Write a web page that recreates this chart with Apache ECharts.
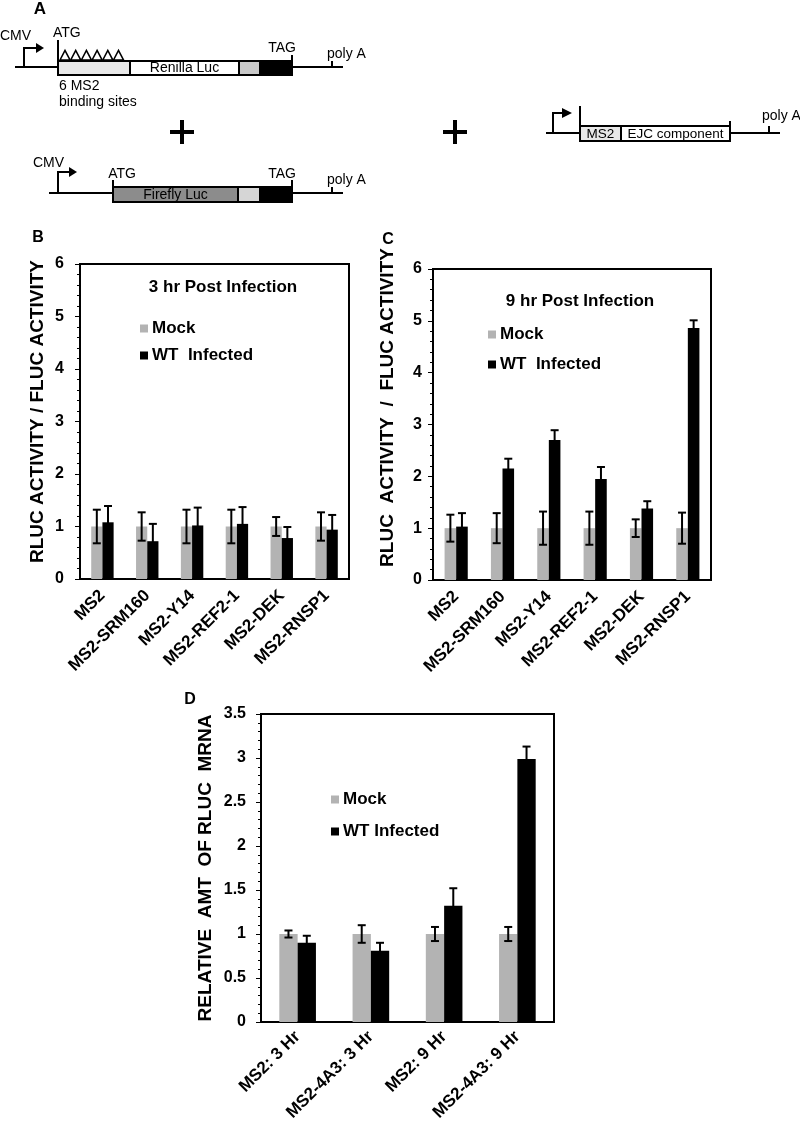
<!DOCTYPE html>
<html>
<head>
<meta charset="utf-8">
<script src="https://cdn.jsdelivr.net/npm/echarts@6/dist/echarts.min.js"></script>
<style>
html,body{margin:0;padding:0;background:#fff;}
#chart{width:800px;height:1128px;}
</style>
</head>
<body>
<div id="chart"></div>
<script>
// ---------- DATA ----------
var catsBC = ['MS2', 'MS2-SRM160', 'MS2-Y14', 'MS2-REF2-1', 'MS2-DEK', 'MS2-RNSP1'];
var catsD = ['MS2: 3 Hr', 'MS2-4A3: 3 Hr', 'MS2: 9 Hr', 'MS2-4A3: 9 Hr'];

var mockB = [1, 1, 1, 1, 1, 1];
var mockErrB = [0.32, 0.27, 0.32, 0.32, 0.18, 0.27];
var wtB = [1.08, 0.72, 1.02, 1.05, 0.78, 0.94];
var wtErrB = [0.31, 0.33, 0.34, 0.32, 0.21, 0.28];

var mockC = [1, 1, 1, 1, 1, 1];
var mockErrC = [0.26, 0.29, 0.32, 0.32, 0.17, 0.30];
var wtC = [1.03, 2.15, 2.70, 1.95, 1.38, 4.86];
var wtErrC = [0.26, 0.19, 0.19, 0.23, 0.14, 0.15];

var mockD = [1, 1, 1, 1];
var mockErrD = [0.04, 0.10, 0.08, 0.08];
var wtD = [0.90, 0.81, 1.32, 2.99];
var wtErrD = [0.08, 0.09, 0.20, 0.14];

var yTicksBC = [0, 1, 2, 3, 4, 5, 6];
var yTicksD = [0, 0.5, 1, 1.5, 2, 2.5, 3, 3.5];

// ---------- HELPERS ----------
var GREY = '#b3b3b3';
var FONT = 'Liberation Sans, Arial, sans-serif';

function errData(vals, errs) {
  return vals.map(function (v, i) { return [i, v, v + errs[i], v - errs[i]]; });
}
function errRender(side) {
  return function (params, api) {
    var x = api.value(0);
    var hi = api.coord([x, api.value(2)]);
    var lo = api.coord([x, api.value(3)]);
    var bw = api.size([1, 0])[0] * 0.25;
    var cx = hi[0] + side * bw / 2;
    var cap = 4;
    var st = { stroke: '#000', lineWidth: 2 };
    return {
      type: 'group',
      children: [
        { type: 'line', shape: { x1: cx, y1: hi[1], x2: cx, y2: lo[1] }, style: st },
        { type: 'line', shape: { x1: cx - cap, y1: hi[1], x2: cx + cap, y2: hi[1] }, style: st },
        { type: 'line', shape: { x1: cx - cap, y1: lo[1], x2: cx + cap, y2: lo[1] }, style: st }
      ]
    };
  };
}
function xAx(idx, cats, fs, margin) {
  return {
    type: 'category', gridIndex: idx, data: cats,
    axisLine: { lineStyle: { color: '#000', width: 2 } },
    axisTick: { show: false },
    axisLabel: { interval: 0, rotate: 45, fontSize: fs, fontWeight: 'bold', color: '#000', fontFamily: FONT, margin: margin }
  };
}
function yAx(idx, max, interval, minorSplit, name, nameGap, padLeft, labelMargin) {
  return {
    type: 'value', gridIndex: idx, min: 0, max: max, interval: interval,
    name: name, nameLocation: 'middle', nameRotate: 90, nameGap: nameGap,
    nameTextStyle: { fontSize: 19, fontWeight: 'bold', color: '#000', fontFamily: FONT, padding: [0, 0, 0, padLeft] },
    axisLine: { show: true, lineStyle: { color: '#000', width: 2 } },
    axisTick: { show: true, length: 5, lineStyle: { color: '#000', width: 1 } },
    minorTick: { show: true, splitNumber: minorSplit, length: 3, lineStyle: { color: '#000', width: 1 } },
    splitLine: { show: false },
    axisLabel: { fontSize: 16, fontWeight: 'bold', color: '#000', fontFamily: FONT, margin: labelMargin }
  };
}
function barS(name, idx, data, color) {
  return {
    type: 'bar', name: name, xAxisIndex: idx, yAxisIndex: idx, data: data,
    barWidth: '25%', barGap: '0%', itemStyle: { color: color }, z: 2, silent: true
  };
}
function errS(idx, vals, errs, side) {
  return {
    type: 'custom', xAxisIndex: idx, yAxisIndex: idx, data: errData(vals, errs),
    renderItem: errRender(side), z: 5, silent: true,
    encode: { x: 0, y: [1, 2, 3] }
  };
}
function legendAt(left, top, gap, names) {
  return {
    left: left, top: top, orient: 'vertical', itemGap: gap,
    itemWidth: 8, itemHeight: 8, icon: 'rect', selectedMode: false,
    data: names,
    textStyle: { fontSize: 17, fontWeight: 'bold', color: '#000', fontFamily: FONT, lineHeight: 17, padding: [0, 0, 0, -1] }
  };
}

// ---------- DIAGRAM (panel A) ----------
function L(x1, y1, x2, y2, w) { return { type: 'line', shape: { x1: x1, y1: y1, x2: x2, y2: y2 }, style: { stroke: '#000', lineWidth: w || 2 } }; }
function R(x, y, w, h, fill) { return { type: 'rect', shape: { x: x, y: y, width: w, height: h }, style: { fill: fill, stroke: '#000', lineWidth: 2 } }; }
function T(x, y, txt, fs, align, bold) {
  return { type: 'text', x: x, y: y, style: { text: txt, fontSize: fs, fontFamily: FONT, fontWeight: bold ? 'bold' : 'normal', fill: '#000', align: align || 'left', verticalAlign: 'middle' } };
}
function PL(points) { return { type: 'polyline', shape: { points: points }, style: { stroke: '#000', lineWidth: 2, fill: null } }; }
function plus(cx, cy) {
  return [
    { type: 'rect', shape: { x: cx - 12, y: cy - 2, width: 24, height: 4 }, style: { fill: '#000' } },
    { type: 'rect', shape: { x: cx - 2, y: cy - 12, width: 4, height: 24 }, style: { fill: '#000' } }
  ];
}

var g = [];
// panel letters
g.push(T(40, 9, 'A', 17, 'center', true));
g.push(T(38, 238, 'B', 16, 'center', true));
g.push(T(388, 240, 'C', 16, 'center', true));
g.push(T(190, 700, 'D', 16, 'center', true));

// construct 1 (Renilla)
g.push(T(0, 36, 'CMV', 14));
g.push(PL([[24, 67], [24, 48], [37, 48]]));
g.push({ type: 'polygon', shape: { points: [[36, 43], [44, 48], [36, 53]] }, style: { fill: '#000' } });
g.push(L(15, 67, 58, 67));
g.push(L(58, 40, 58, 75));
g.push(T(53, 33, 'ATG', 14));
g.push(R(58, 61, 72, 14, '#e8e8e8'));
g.push(R(130, 61, 109, 14, '#ffffff'));
g.push(R(239, 61, 21, 14, '#c8c8c8'));
g.push(R(260, 61, 32, 14, '#000000'));
g.push(T(184.5, 68.5, 'Renilla Luc', 14, 'center'));
for (var k = 0; k < 6; k++) {
  var x0 = 60 + k * 10.7;
  g.push({ type: 'polygon', shape: { points: [[x0, 60], [x0 + 5, 50.5], [x0 + 10, 60]] }, style: { fill: '#fff', stroke: '#000', lineWidth: 1.6 } });
}
g.push(L(292, 55, 292, 75));
g.push(T(282, 48, 'TAG', 14, 'center'));
g.push(L(292, 67, 343, 67));
g.push(L(332, 61, 332, 67));
g.push(T(327, 54, 'poly A', 14));
g.push(T(59, 86, '6 MS2', 14));
g.push(T(59, 102, 'binding sites', 14));
g = g.concat(plus(182, 132));

// construct 2 (Firefly)
g.push(T(33, 163, 'CMV', 14));
g.push(PL([[58, 193], [58, 172], [70, 172]]));
g.push({ type: 'polygon', shape: { points: [[69, 167], [77, 172], [69, 177]] }, style: { fill: '#000' } });
g.push(L(49, 193, 113, 193));
g.push(L(113, 180, 113, 202));
g.push(T(122, 174, 'ATG', 14, 'center'));
g.push(R(113, 187, 125, 15, '#8c8c8c'));
g.push(R(238, 187, 22, 15, '#d6d6d6'));
g.push(R(260, 187, 32, 15, '#000000'));
g.push(T(175.5, 195, 'Firefly Luc', 14, 'center'));
g.push(L(292, 180, 292, 202));
g.push(T(282, 174, 'TAG', 14, 'center'));
g.push(L(292, 193, 343, 193));
g.push(L(332, 187, 332, 193));
g.push(T(327, 180, 'poly A', 14));

// construct 3 (MS2-EJC)
g = g.concat(plus(455, 132));
g.push(PL([[553, 133], [553, 113], [562, 113]]));
g.push({ type: 'polygon', shape: { points: [[562, 108], [572, 113], [562, 118]] }, style: { fill: '#000' } });
g.push(L(546, 133, 580, 133));
g.push(L(580, 106, 580, 141));
g.push(R(580, 126, 41, 15, '#e8e8e8'));
g.push(R(621, 126, 109, 15, '#ffffff'));
g.push(T(600.5, 134, 'MS2', 13.5, 'center'));
g.push(T(675.5, 134, 'EJC component', 13.5, 'center'));
g.push(L(730, 121, 730, 141));
g.push(L(730, 133, 780, 133));
g.push(L(769, 126, 769, 133));
g.push(T(762, 116, 'poly A', 14));

// panel titles
g.push(T(223, 287, '3 hr Post Infection', 17, 'center', true));
g.push(T(580, 301, '9 hr Post Infection', 17, 'center', true));

// ---------- OPTION ----------
var option = {
  animation: false,
  backgroundColor: '#fff',
  textStyle: { fontFamily: FONT },
  grid: [
    { left: 80, top: 264, width: 269, height: 315, show: true, borderColor: '#000', borderWidth: 2, backgroundColor: 'transparent' },
    { left: 433, top: 269, width: 278, height: 311, show: true, borderColor: '#000', borderWidth: 2, backgroundColor: 'transparent' },
    { left: 261, top: 714, width: 293, height: 308, show: true, borderColor: '#000', borderWidth: 2, backgroundColor: 'transparent' }
  ],
  xAxis: [xAx(0, catsBC, 17, 14), xAx(1, catsBC, 17, 14), xAx(2, catsD, 17, 12)],
  yAxis: [
    yAx(0, yTicksBC[yTicksBC.length - 1], yTicksBC[1] - yTicksBC[0], 5, 'RLUC ACTIVITY / FLUC ACTIVITY', 33, 20, 16),
    yAx(1, yTicksBC[yTicksBC.length - 1], yTicksBC[1] - yTicksBC[0], 5, 'RLUC  ACTIVITY  /  FLUC ACTIVITY', 36, 34, 11),
    yAx(2, yTicksD[yTicksD.length - 1], yTicksD[1] - yTicksD[0], 5, 'RELATIVE  AMT  OF RLUC  MRNA', 46, 0, 15)
  ],
  legend: [
    legendAt(135, 315, 10, ['Mock', 'WT  Infected']),
    legendAt(483, 321, 13, ['Mock', 'WT  Infected']),
    legendAt(326, 786, 15, ['Mock', 'WT Infected'])
  ],
  series: [
    barS('Mock', 0, mockB, GREY), barS('WT  Infected', 0, wtB, '#000'),
    errS(0, mockB, mockErrB, -1), errS(0, wtB, wtErrB, 1),
    barS('Mock', 1, mockC, GREY), barS('WT  Infected', 1, wtC, '#000'),
    errS(1, mockC, mockErrC, -1), errS(1, wtC, wtErrC, 1),
    barS('Mock', 2, mockD, GREY), barS('WT Infected', 2, wtD, '#000'),
    errS(2, mockD, mockErrD, -1), errS(2, wtD, wtErrD, 1)
  ],
  graphic: g
};

var chart = echarts.init(document.getElementById('chart'), null, { renderer: 'canvas' });
chart.setOption(option);
</script>
</body>
</html>
